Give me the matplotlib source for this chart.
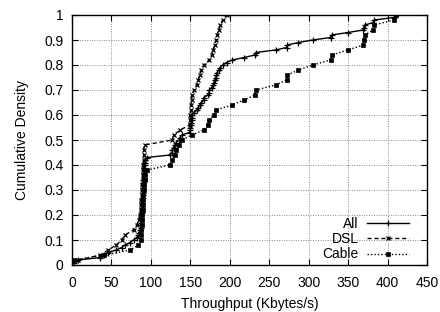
import numpy as np
import matplotlib
matplotlib.use("Agg")
import matplotlib.pyplot as plt

plt.rcParams['font.family'] = ['Liberation Sans', 'DejaVu Sans']

# throughput samples (Kbytes/s)
dsl = [8, 36, 46, 56, 63, 67, 78, 82,
       85, 86, 87, 88, 88, 89, 89, 89, 90, 90, 90, 90, 91, 91, 91, 92,
       127, 129, 137, 149, 150, 150, 151, 151, 152, 152,
       155, 158, 160, 162, 164, 167, 174, 177, 179, 181,
       183, 184, 186, 188, 191, 196]
cable = [3, 41, 74, 84,
         87, 88, 88, 89, 89, 89, 90, 90, 90, 90, 91, 91, 92, 93, 95,
         124, 127, 130, 132, 136, 139, 152, 167, 172, 174, 180, 182,
         203, 218, 232, 233, 258, 272, 273, 287, 305, 328, 329, 350,
         369, 370, 371, 382, 383, 408, 411]
everyone = dsl + cable


def cdf(vals):
    x = np.sort(np.array(vals, dtype=float))
    y = np.arange(1, len(x) + 1) / len(x)
    return x, y


fig = plt.figure(figsize=(4.4, 3.12), dpi=100)
ax = fig.add_axes([72/440, 1 - 265/312, 355/440, 250/312])

x, y = cdf(everyone)
ax.plot(x, y, color='black', lw=1.0, ls='-', marker='+', ms=4.5, mew=0.9, label='All')
x, y = cdf(dsl)
ax.plot(x, y, color='black', lw=1.0, ls=(0, (3, 2)), marker='x', ms=3.5, mew=0.9, label='DSL')
x, y = cdf(cable)
ax.plot(x, y, color='black', lw=1.0, ls=(0, (1, 1.5)), marker='s', ms=2.4, mew=0.5, label='Cable')

ax.set_xlim(0, 450)
ax.set_ylim(0, 1)
ax.set_xticks(np.arange(0, 451, 50))
ax.set_yticks(np.arange(0, 1.01, 0.1))
ax.set_yticklabels(['0', '0.1', '0.2', '0.3', '0.4', '0.5', '0.6', '0.7', '0.8', '0.9', '1'])
ax.grid(True, color='#888888', ls=(0, (1, 1.5)), lw=0.7)
ax.tick_params(axis='both', direction='in', top=True, right=True, length=4, labelsize=10)
ax.tick_params(axis='x', pad=8)
ax.tick_params(axis='y', pad=6)
for s in ax.spines.values():
    s.set_linewidth(1.0)

ax.set_xlabel('Throughput (Kbytes/s)', fontsize=10, labelpad=5)
ax.set_ylabel('Cumulative Density', fontsize=10, labelpad=11)

leg = ax.legend(loc='lower right', bbox_to_anchor=(0.98, -0.03), frameon=False,
                markerfirst=False, handlelength=3.0, fontsize=10,
                labelspacing=0.1, borderpad=0.3, handletextpad=0.6)

fig.savefig('out.png', dpi=100)
